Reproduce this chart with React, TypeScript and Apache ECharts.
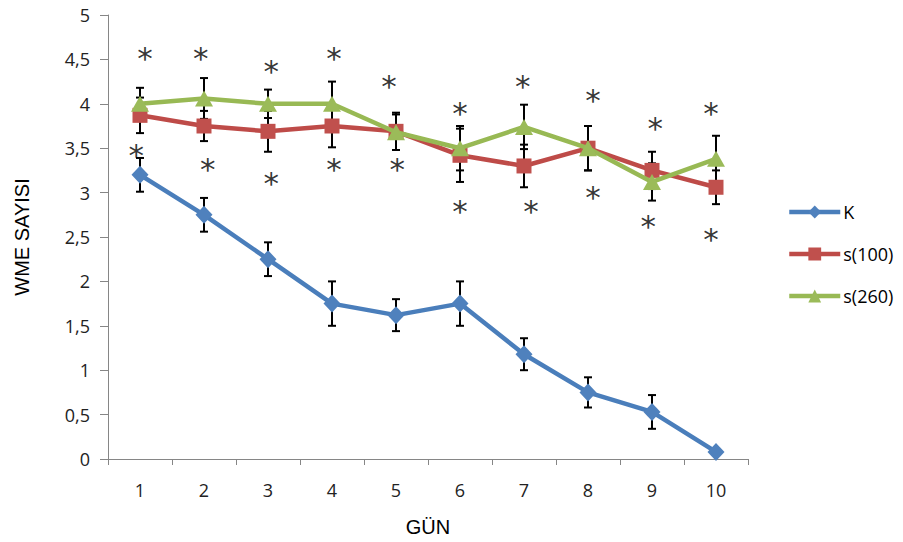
import React, { useEffect, useRef } from 'react';
import * as echarts from 'echarts';

const days = ['1', '2', '3', '4', '5', '6', '7', '8', '9', '10'];
const yTicks = [0, 0.5, 1, 1.5, 2, 2.5, 3, 3.5, 4, 4.5, 5];

const kValues = [3.2, 2.75, 2.25, 1.75, 1.62, 1.75, 1.18, 0.75, 0.53, 0.08];
const kErrors = [0.19, 0.19, 0.19, 0.25, 0.18, 0.25, 0.18, 0.17, 0.19, 0];

const s100Values = [3.87, 3.75, 3.69, 3.75, 3.69, 3.42, 3.3, 3.5, 3.25, 3.06];
const s100Errors = [0.2, 0.17, 0.23, 0.24, 0.21, 0.3, 0.24, 0.25, 0.21, 0.19];

const s260Values = [4.0, 4.06, 4.0, 4.0, 3.68, 3.5, 3.74, 3.5, 3.12, 3.38];
const s260Errors = [0.18, 0.23, 0.16, 0.25, 0.2, 0.25, 0.25, 0.25, 0.21, 0.26];

// significance asterisks: x in day units, y in value units
const starX = [1.08, 0.94, 1.95, 2.06, 3.05, 3.05, 4.03, 4.03, 4.89, 5.02, 6.0, 6.0, 6.98, 7.11, 8.08, 8.08, 9.05, 8.94, 9.92, 9.92];
const starY = [4.56, 3.47, 4.56, 3.31, 4.41, 3.15, 4.56, 3.31, 4.25, 3.31, 3.94, 2.84, 4.25, 2.84, 4.09, 3.0, 3.77, 2.67, 3.94, 2.52];

const seriesNames = ['K', 's(100)', 's(260)'];
const lineColors = ['#4A7EBB', '#BE4B48', '#98B954'];
const markerColors = ['#4F81BD', '#C0504D', '#9BBB59'];

export default function App() {
  const ref = useRef<HTMLDivElement>(null);

  useEffect(() => {
    if (!ref.current) return;
    const chart = echarts.init(ref.current, null, { renderer: 'svg' });

    const errData = (vals: number[], errs: number[]) =>
      vals
        .map((v, i) => (errs[i] > 0 ? [i, v - errs[i], v + errs[i]] : null))
        .filter((d) => d !== null);

    const renderErr = (params: any, api: any) => {
      const x = api.value(0);
      const lo = api.coord([x, api.value(1)]);
      const hi = api.coord([x, api.value(2)]);
      const cx = lo[0];
      const w = 4;
      const st = { stroke: '#000', lineWidth: 2 };
      return {
        type: 'group',
        children: [
          { type: 'line', shape: { x1: cx, y1: lo[1], x2: cx, y2: hi[1] }, style: st },
          { type: 'line', shape: { x1: cx - w, y1: hi[1], x2: cx + w, y2: hi[1] }, style: st },
          { type: 'line', shape: { x1: cx - w, y1: lo[1], x2: cx + w, y2: lo[1] }, style: st },
        ],
      };
    };

    const valuesList = [kValues, s100Values, s260Values];
    const errorsList = [kErrors, s100Errors, s260Errors];
    const symbols = ['diamond', 'rect', 'triangle'];
    const symbolSizes: any[] = [[17, 18], 15, [18, 16]];

    const errSeries = valuesList.map((vals, k) => ({
      type: 'custom',
      name: 'err' + k,
      xAxisIndex: 0,
      yAxisIndex: 0,
      data: errData(vals, errorsList[k]),
      renderItem: renderErr,
      encode: { x: 0, y: [1, 2] },
      z: 1,
      silent: true,
    }));

    const lineSeries = valuesList.map((vals, k) => ({
      type: 'line',
      name: seriesNames[k],
      xAxisIndex: 0,
      yAxisIndex: 0,
      data: vals,
      symbol: symbols[k],
      symbolSize: symbolSizes[k],
      showAllSymbol: true,
      lineStyle: { color: lineColors[k], width: 4.5 },
      itemStyle: { color: markerColors[k], borderWidth: 0 },
      z: 2 + k,
    }));

    const starSeries = {
      type: 'scatter',
      name: 'stars',
      xAxisIndex: 1,
      yAxisIndex: 0,
      data: starX.map((x, i) => [x, starY[i]]),
      symbolSize: 1,
      itemStyle: { color: 'rgba(0,0,0,0)' },
      label: {
        show: true,
        formatter: '*',
        position: 'inside',
        fontSize: 31,
        fontFamily: 'DejaVu Sans',
        color: '#000',
        offset: [0, 4],
      },
      silent: true,
      z: 6,
    };

    chart.setOption({
      animation: false,
      backgroundColor: '#fff',
      grid: { left: 108, right: 155, top: 15, bottom: 83, containLabel: false },
      legend: {
        data: seriesNames,
        orient: 'vertical',
        left: 782,
        top: 198,
        itemWidth: 51,
        itemHeight: 16,
        itemGap: 24,
        lineStyle: { width: 4.5 },
        textStyle: { fontSize: 18, fontFamily: 'Open Sans', color: '#000', padding: [0, 0, 0, -2] },
        selectedMode: false,
      },
      xAxis: [
        {
          type: 'category',
          data: days,
          boundaryGap: true,
          name: 'GÜN',
          nameLocation: 'middle',
          nameGap: 58,
          nameTextStyle: { fontSize: 20, fontFamily: 'Liberation Sans', color: '#000' },
          axisLine: { lineStyle: { color: '#868686', width: 1 } },
          axisTick: { show: true, length: 6, alignWithLabel: false, lineStyle: { color: '#868686' } },
          axisLabel: { fontSize: 18, fontFamily: 'Open Sans', color: '#222', margin: 22 },
          splitLine: { show: false },
        },
        {
          type: 'value',
          min: 0.5,
          max: 10.5,
          show: false,
          splitLine: { show: false },
        },
      ],
      yAxis: {
        type: 'value',
        min: yTicks[0],
        max: yTicks[yTicks.length - 1],
        interval: 0.5,
        name: 'WME SAYISI',
        nameLocation: 'middle',
        nameGap: 76,
        nameRotate: 90,
        nameTextStyle: { fontSize: 20, fontFamily: 'Liberation Sans', color: '#000' },
        axisLine: { show: true, lineStyle: { color: '#868686', width: 1 } },
        axisTick: { show: true, length: 8, inside: false, lineStyle: { color: '#868686' } },
        axisLabel: {
          fontSize: 18,
          fontFamily: 'Open Sans',
          color: '#222',
          margin: 18,
          formatter: (v: number) => String(v).replace('.', ','),
        },
        splitLine: { show: false },
      },
      series: [...errSeries, ...lineSeries, starSeries],
    });

    return () => chart.dispose();
  }, []);

  return (
    <div
      ref={ref}
      style={{ position: 'fixed', left: 0, top: 0, width: 903, height: 542, background: '#fff' }}
    />
  );
}
